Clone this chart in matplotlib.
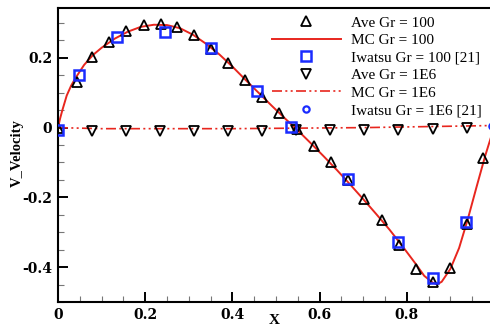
"""Vertical velocity profile along the mid-line: Gr = 100 and Gr = 1E6."""

import matplotlib

matplotlib.use("Agg")
import matplotlib.pyplot as plt
from matplotlib.ticker import MultipleLocator

# MC solution, Gr = 100 (solid line)
mc100_x = [0.0, 0.005, 0.01, 0.02, 0.03, 0.04, 0.06, 0.08, 0.10, 0.13, 0.16, 0.19,
           0.22, 0.25, 0.28, 0.31, 0.34, 0.37, 0.40, 0.43, 0.46, 0.49,
           0.52, 0.55, 0.58, 0.61, 0.64, 0.67, 0.70, 0.73, 0.76, 0.79,
           0.82, 0.84, 0.86, 0.87, 0.88, 0.90, 0.92, 0.94, 0.96, 0.98, 1.0]
mc100_y = [0.0, 0.027, 0.050, 0.092, 0.120, 0.142, 0.180, 0.208, 0.229, 0.255, 0.275, 0.289,
           0.295, 0.294, 0.285, 0.266, 0.240, 0.210, 0.175, 0.137, 0.100, 0.063,
           0.027, -0.008, -0.045, -0.083, -0.122, -0.163, -0.205, -0.248, -0.292, -0.340,
           -0.390, -0.425, -0.445, -0.449, -0.442, -0.405, -0.345, -0.262, -0.170, -0.080, 0.0]

# averaged results, Gr = 100 (up triangles)
ave100_x = [0.0, 0.043, 0.078, 0.117, 0.156, 0.197, 0.236, 0.273, 0.312, 0.351,
            0.390, 0.429, 0.467, 0.507, 0.548, 0.587, 0.626, 0.664, 0.702, 0.743,
            0.782, 0.821, 0.860, 0.899, 0.937, 0.975]
ave100_y = [0.0, 0.130, 0.203, 0.246, 0.277, 0.294, 0.297, 0.289, 0.266, 0.225,
            0.186, 0.137, 0.089, 0.043, -0.003, -0.054, -0.100, -0.150, -0.206, -0.266,
            -0.337, -0.406, -0.443, -0.403, -0.275, -0.086]

# Iwatsu et al. [21], Gr = 100 (squares)
iw100_x = [0.0, 0.049, 0.135, 0.246, 0.351, 0.457, 0.535, 0.665, 0.780, 0.860, 0.936]
iw100_y = [-0.008, 0.152, 0.260, 0.273, 0.228, 0.106, 0.003, -0.146, -0.327, -0.430, -0.271]

# averaged results, Gr = 1E6 (down triangles)
ave1e6_x = [0.078, 0.156, 0.234, 0.312, 0.390, 0.468, 0.546, 0.624, 0.702, 0.780,
            0.860, 0.938]
ave1e6_y = [-0.009, -0.009, -0.009, -0.009, -0.009, -0.009, -0.008, -0.008, -0.007, -0.006,
            -0.005, -0.002]

# MC solution, Gr = 1E6 (dash-dot-dot line)
mc1e6_x = [0.0, 0.1, 0.2, 0.3, 0.4, 0.5, 0.6, 0.7, 0.8, 0.9, 0.95, 0.995]
mc1e6_y = [0.0, -0.003, -0.003, -0.003, -0.003, -0.002, -0.001, 0.0, 0.002, 0.004, 0.005, 0.006]

# Iwatsu et al. [21], Gr = 1E6 (circles)
iw1e6_x = [0.995]
iw1e6_y = [0.006]

RED = "#e8261e"
BLUE = "#1a2cff"

fig = plt.figure(figsize=(4.9, 3.29), dpi=100)
ax = fig.add_axes([58 / 490, 27 / 329, 436 / 490, 294 / 329])

ax.plot(ave100_x, ave100_y, "^", ms=7.5, mfc="none", mec="black", mew=1.3,
        label="Ave Gr = 100", zorder=3)
ax.plot(mc100_x, mc100_y, "-", color=RED, lw=1.4, label="MC Gr = 100", zorder=2)
ax.plot(iw100_x, iw100_y, "s", ms=7, mfc="none", mec=BLUE, mew=1.8,
        label="Iwatsu Gr = 100 [21]", zorder=4)
ax.plot(ave1e6_x, ave1e6_y, "v", ms=7.5, mfc="none", mec="black", mew=1.3,
        label="Ave Gr = 1E6", zorder=3)
ax.plot(mc1e6_x, mc1e6_y, color=RED, lw=1.2, ls=(0, (6, 2, 1.2, 2, 1.2, 2)),
        label="MC Gr = 1E6", zorder=2)
ax.plot(iw1e6_x, iw1e6_y, "o", ms=4.5, mfc="none", mec=BLUE, mew=1.6,
        label="Iwatsu Gr = 1E6 [21]", zorder=4, clip_on=False)

ax.set_xlim(0, 1.0)
ax.set_ylim(-0.5, 0.343)
ax.xaxis.set_major_locator(MultipleLocator(0.2))
ax.xaxis.set_minor_locator(MultipleLocator(0.05))
ax.yaxis.set_major_locator(MultipleLocator(0.2))
ax.yaxis.set_minor_locator(MultipleLocator(0.05))


def tick_fmt(v, pos):
    # the x = 1 label falls past the right edge of the frame, leave it blank
    if abs(v) < 1e-9:
        return "0"
    if v > 0.99:
        return ""
    return f"{v:.1f}"


ax.xaxis.set_major_formatter(tick_fmt)
ax.yaxis.set_major_formatter(tick_fmt)

ax.tick_params(which="major", direction="in", length=7, width=1.4, pad=4)
ax.tick_params(which="minor", direction="in", length=4, width=0.8, color="#777777")
for lab in ax.get_xticklabels() + ax.get_yticklabels():
    lab.set_fontfamily("DejaVu Serif")
    lab.set_fontweight("bold")
    lab.set_fontsize(10)
for s in ax.spines.values():
    s.set_linewidth(1.5)

ax.set_xlabel("X", family="Liberation Serif", fontweight="bold", fontsize=11, va="top")
ax.set_ylabel("V_Velocity", family="Liberation Serif", fontweight="bold", fontsize=10.5)
ax.xaxis.set_label_coords(0.497, -0.04)
ax.yaxis.set_label_coords(-0.078, 0.505)

fig.legend(loc="upper left", bbox_to_anchor=(272 / 490, 1 - 16 / 329),
           frameon=False, prop={"family": "Liberation Serif", "size": 11},
           handlelength=4.5, handletextpad=0.7, labelspacing=0.25,
           borderpad=0, borderaxespad=0)

fig.savefig("out.png", dpi=100)
